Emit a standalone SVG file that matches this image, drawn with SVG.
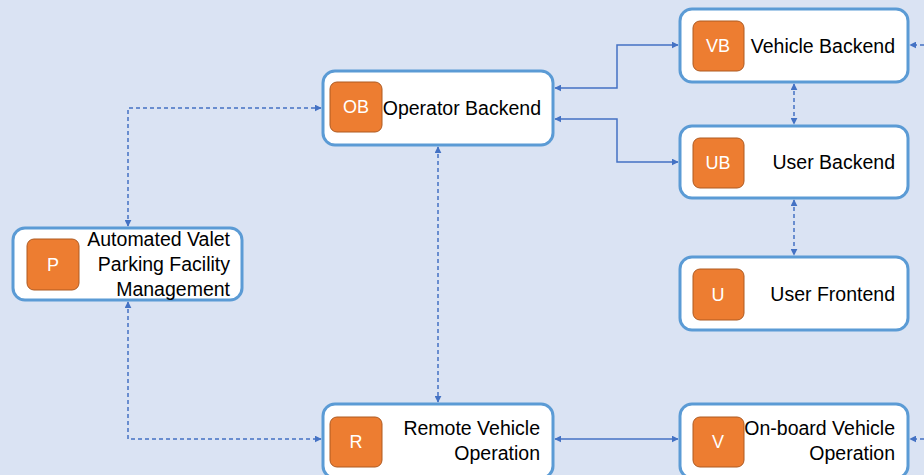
<svg xmlns="http://www.w3.org/2000/svg" width="924" height="475" viewBox="0 0 924 475">
  <defs>
    <marker id="arr" viewBox="0 0 10 10" refX="9" refY="5" markerWidth="7" markerHeight="7" markerUnits="userSpaceOnUse" orient="auto-start-reverse">
      <path d="M0,0 L10,5 L0,10 z" fill="#4472C4"/>
    </marker>
    <style>
      .box { fill: #FFFFFF; stroke: #5B9BD5; stroke-width: 3; }
      .tag { fill: #ED7D31; stroke: #AE5A21; stroke-width: 1; }
      .tagtxt { font-family: "Liberation Sans", Arial, sans-serif; font-size: 18px; fill: #FFFFFF; text-anchor: middle; }
      .lbl { font-family: "Liberation Sans", Arial, sans-serif; font-size: 19.5px; fill: #000000; text-anchor: end; }
      .solid { fill: none; stroke: #4472C4; stroke-width: 1.5; marker-start: url(#arr); marker-end: url(#arr); }
      .dash { fill: none; stroke: #4472C4; stroke-width: 1.5; stroke-dasharray: 4 3; marker-start: url(#arr); marker-end: url(#arr); }
      .dash1 { fill: none; stroke: #4472C4; stroke-width: 1.5; stroke-dasharray: 4 3; marker-end: url(#arr); }
    </style>
  </defs>

  <rect x="0" y="0" width="924" height="475" fill="#DAE3F3"/>

  <g id="connectors">
    <path class="solid" d="M555,88 H617 V45 H678"/>
    <path class="solid" d="M555,119 H617 V162 H678"/>
    <path class="dash" d="M438,147 V402"/>
    <path class="dash" d="M128,226 V108 H321"/>
    <path class="dash" d="M128,302 V439 H321"/>
    <path class="solid" d="M555,439 H678"/>
    <path class="dash" d="M794,84 V124"/>
    <path class="dash" d="M794,200 V255"/>
    <path class="dash1" d="M924,45 H910"/>
    <path class="dash1" d="M924,439 H910"/>
  </g>

  <g id="node-P">
    <rect class="box" x="13" y="228" width="229" height="72" rx="12"/>
    <rect class="tag" x="27" y="239" width="52" height="51" rx="7"/>
    <text class="tagtxt" x="53" y="271">P</text>
    <text class="lbl" x="230" y="246">Automated Valet</text>
    <text class="lbl" x="230" y="271">Parking Facility</text>
    <text class="lbl" x="230" y="296">Management</text>
  </g>

  <g id="node-OB">
    <rect class="box" x="323" y="71" width="230" height="74" rx="12"/>
    <rect class="tag" x="330" y="82" width="52" height="50" rx="7"/>
    <text class="tagtxt" x="356" y="113">OB</text>
    <text class="lbl" x="541" y="115">Operator Backend</text>
  </g>

  <g id="node-VB">
    <rect class="box" x="680" y="9" width="228" height="73" rx="12"/>
    <rect class="tag" x="693" y="21" width="51" height="50" rx="7"/>
    <text class="tagtxt" x="718" y="52">VB</text>
    <text class="lbl" x="895" y="53">Vehicle Backend</text>
  </g>

  <g id="node-UB">
    <rect class="box" x="680" y="126" width="228" height="72" rx="12"/>
    <rect class="tag" x="693" y="138" width="51" height="50" rx="7"/>
    <text class="tagtxt" x="718" y="169">UB</text>
    <text class="lbl" x="895" y="169">User Backend</text>
  </g>

  <g id="node-U">
    <rect class="box" x="680" y="257" width="228" height="73" rx="12"/>
    <rect class="tag" x="693" y="269" width="51" height="51" rx="7"/>
    <text class="tagtxt" x="718" y="301">U</text>
    <text class="lbl" x="895" y="301">User Frontend</text>
  </g>

  <g id="node-R">
    <rect class="box" x="323" y="404" width="230" height="74" rx="12"/>
    <rect class="tag" x="330" y="417" width="52" height="50" rx="7"/>
    <text class="tagtxt" x="356" y="448">R</text>
    <text class="lbl" x="540" y="435">Remote Vehicle</text>
    <text class="lbl" x="540" y="460">Operation</text>
  </g>

  <g id="node-V">
    <rect class="box" x="680" y="404" width="228" height="74" rx="12"/>
    <rect class="tag" x="693" y="417" width="51" height="50" rx="7"/>
    <text class="tagtxt" x="718" y="448">V</text>
    <text class="lbl" x="895" y="435">On-board Vehicle</text>
    <text class="lbl" x="895" y="460">Operation</text>
  </g>
</svg>
